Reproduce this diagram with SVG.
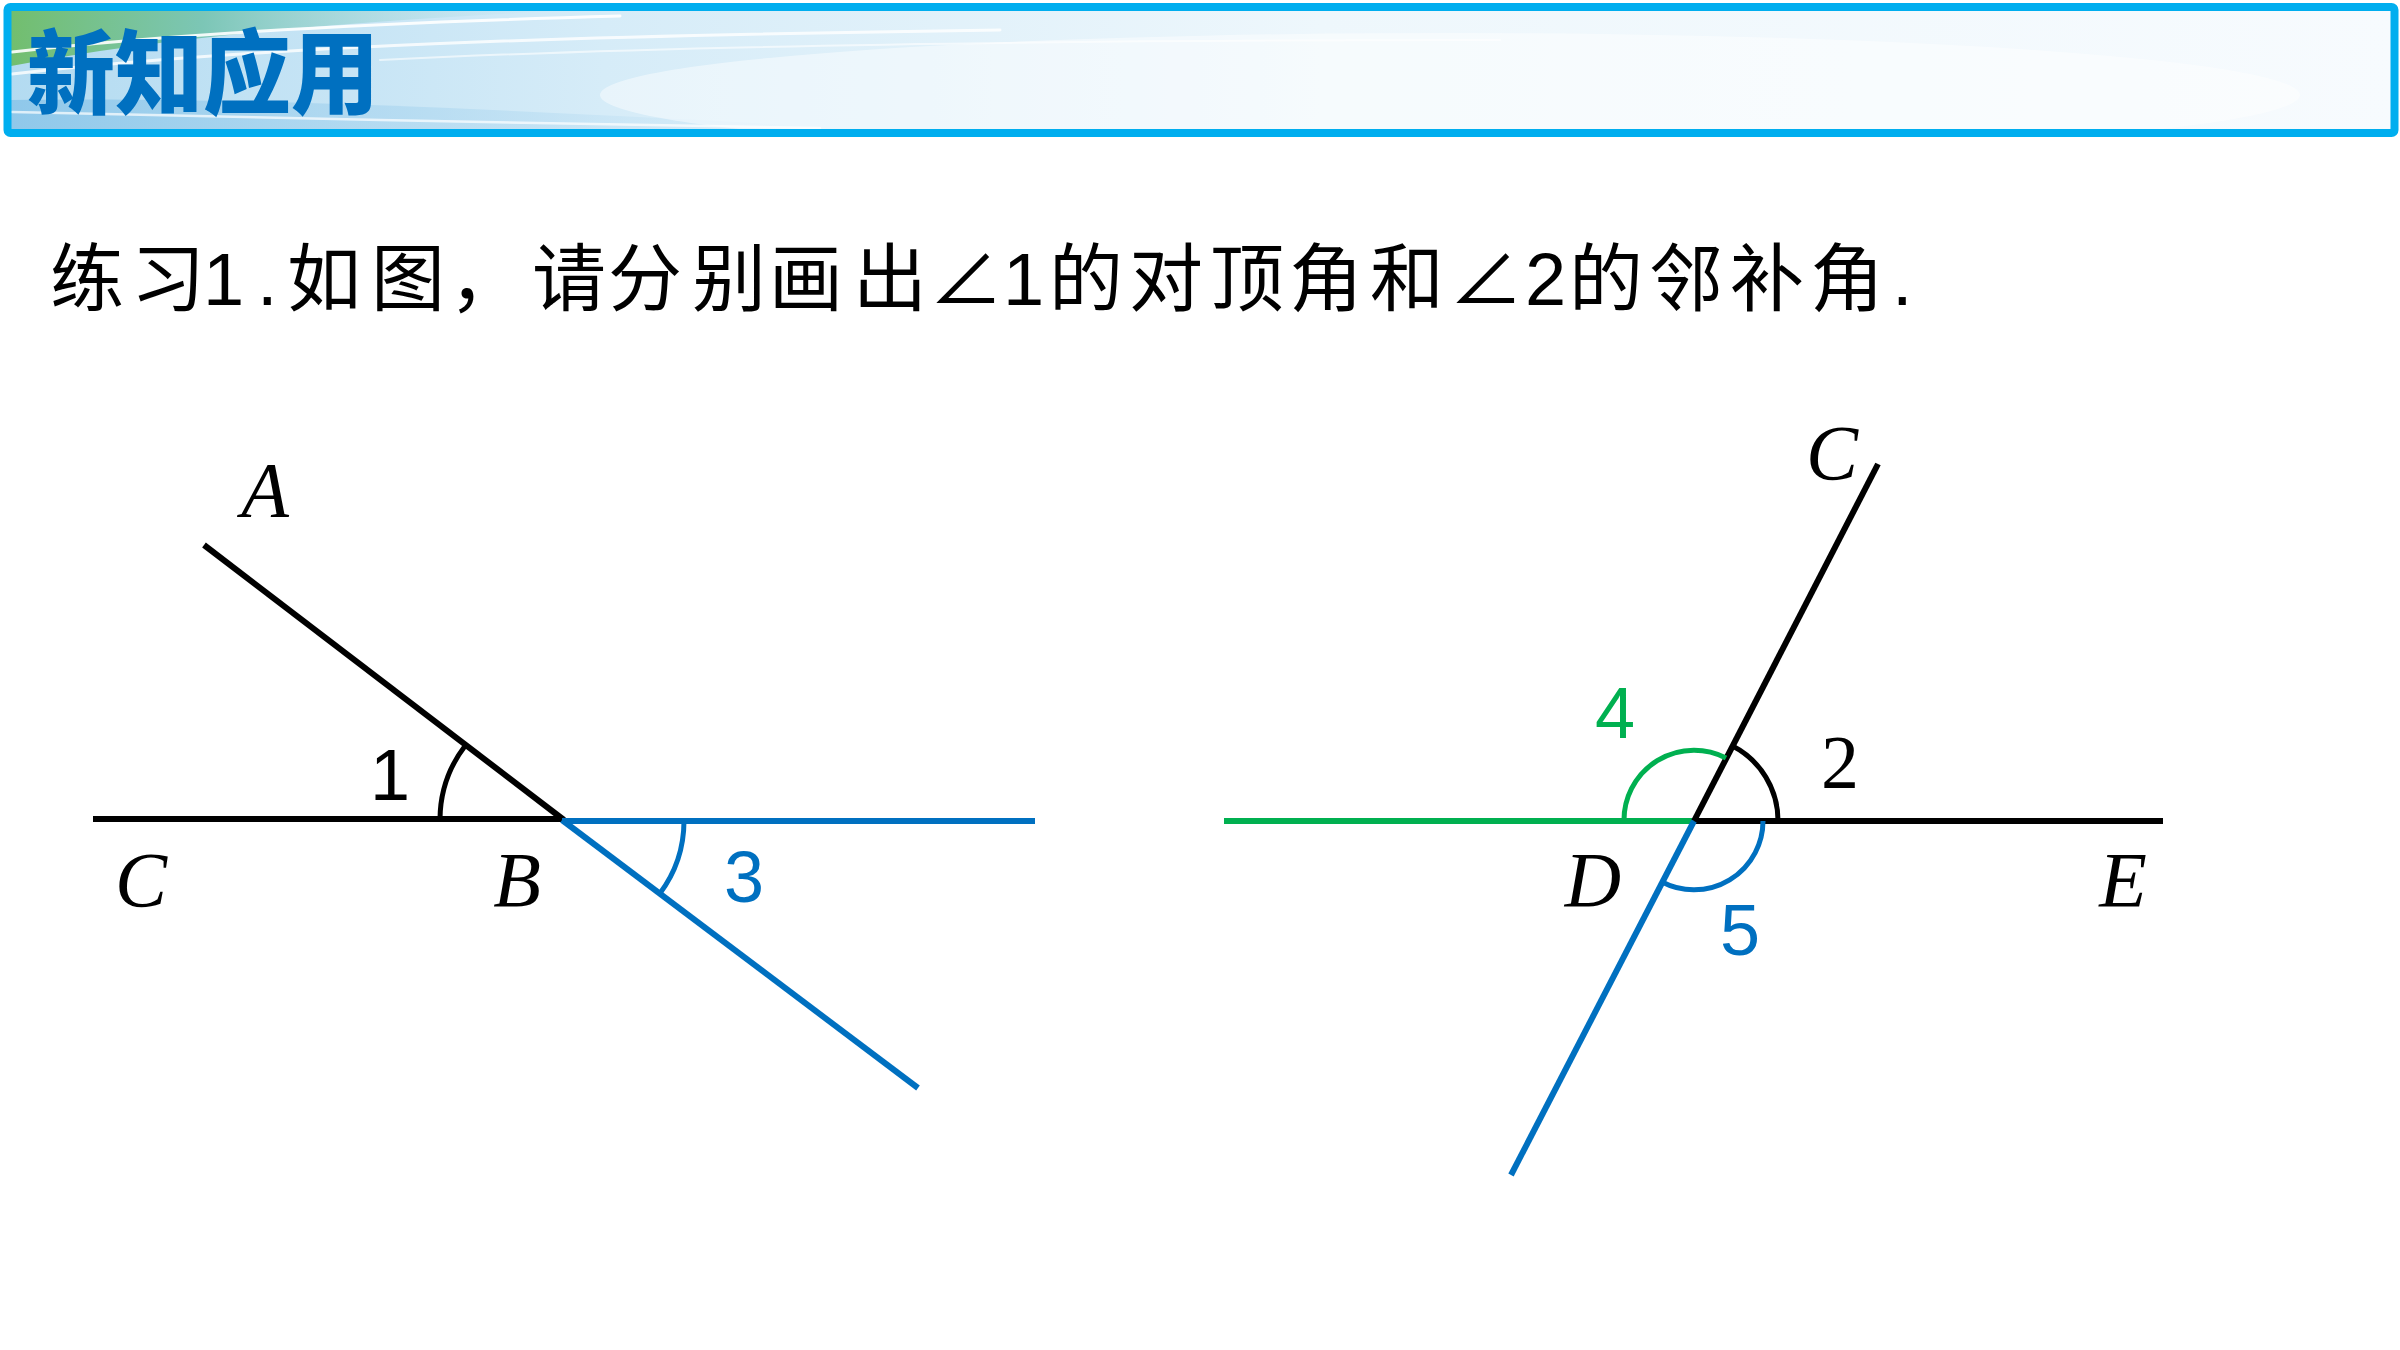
<svg xmlns="http://www.w3.org/2000/svg" width="2400" height="1350" viewBox="0 0 2400 1350">
<defs>
<linearGradient id="hdrBg" x1="0" y1="0" x2="1" y2="0">
<stop offset="0" stop-color="#B3DBF1"/>
<stop offset="0.25" stop-color="#D6ECF8"/>
<stop offset="0.55" stop-color="#EEF7FC"/>
<stop offset="1" stop-color="#F7FBFE"/>
</linearGradient>
<linearGradient id="green" x1="0" y1="0" x2="1" y2="0">
<stop offset="0" stop-color="#72BE6E"/>
<stop offset="0.35" stop-color="#7CC6B6"/>
<stop offset="1" stop-color="#BFE3F2" stop-opacity="0"/>
</linearGradient>
<linearGradient id="lowBlue" x1="0" y1="0" x2="1" y2="0">
<stop offset="0" stop-color="#8FC8EA"/>
<stop offset="0.6" stop-color="#B9DDF2" stop-opacity="0.6"/>
<stop offset="1" stop-color="#D9EEF9" stop-opacity="0"/>
</linearGradient>
<style>
.ln{fill:none;stroke-width:6;stroke-linecap:butt}
.k{stroke:#000}
.b{stroke:#0070C0}
.g{stroke:#00B050}
.arc{fill:none;stroke-width:5}
.pt{font-family:"Liberation Serif","Times New Roman",serif;font-style:italic;font-size:78px;fill:#000;text-anchor:middle}
.num{font-family:"Liberation Sans",Arial,sans-serif;font-size:72px;text-anchor:middle}
.q{font-family:"Liberation Sans","Noto Sans CJK SC",sans-serif;font-size:74px;fill:#000}
.streak{fill:none;stroke:#FFFFFF;stroke-linecap:round}
</style>
</defs>

<g id="header">
<rect x="8" y="7" width="2386" height="126" fill="url(#hdrBg)"/>
<path d="M11,11 H560 C380,20 180,34 11,66 Z" fill="url(#green)"/>
<path d="M11,100 C250,96 560,112 900,131 H11 Z" fill="url(#lowBlue)"/>
<ellipse cx="1450" cy="95" rx="850" ry="62" fill="#FFFFFF" opacity="0.45"/>
<path class="streak" stroke-width="3" opacity="0.9" d="M12,52 C150,36 330,24 620,16"/>
<path class="streak" stroke-width="3" opacity="0.8" d="M12,74 C260,46 560,36 1000,30"/>
<path class="streak" stroke-width="2.5" opacity="0.7" d="M12,112 C300,118 520,124 820,128"/>
<path class="streak" stroke-width="2" opacity="0.6" d="M380,60 C700,44 1100,40 1500,40"/>
<rect x="7.5" y="7" width="2387" height="126" rx="3" fill="none" stroke="#00AEEF" stroke-width="8"/>
<text x="27" y="107" font-family="'Noto Sans CJK SC',sans-serif" font-weight="900" font-size="92" fill="#0070C0" textLength="352" lengthAdjust="spacingAndGlyphs">新知应用</text>
</g>

<g id="question">
<text class="q" y="305" x="50 131 203 257 287 371 449 532 608 692 769 853 929 1003 1049 1129 1210 1289 1370 1449 1525 1569 1649 1730 1810 1892">练习1.如图，请分别画出∠1的对顶角和∠2的邻补角.</text>
</g>

<g id="figure-left">
<line class="ln k" x1="93" y1="819" x2="562" y2="819"/>
<line class="ln k" x1="204" y1="545" x2="564" y2="820"/>
<line class="ln b" x1="562" y1="821" x2="1035" y2="821"/>
<line class="ln b" x1="562" y1="820" x2="918" y2="1088"/>
<path class="arc k" d="M440,819 A122,122 0 0 1 465,746"/>
<path class="arc b" d="M684,821 A122,122 0 0 1 659.5,894"/>
<text class="num" x="390" y="800" fill="#000">1</text>
<text class="num" x="744" y="902" fill="#0070C0">3</text>
<text class="pt" x="265" y="516">A</text>
<text class="pt" x="141" y="906">C</text>
<text class="pt" x="517" y="906">B</text>
</g>

<g id="figure-right">
<line class="ln g" x1="1224" y1="821" x2="1694" y2="821"/>
<line class="ln k" x1="1694" y1="821" x2="2163" y2="821"/>
<line class="ln k" x1="1694" y1="821" x2="1878" y2="464"/>
<line class="ln b" x1="1694" y1="821" x2="1511" y2="1175"/>
<path class="arc k" d="M1778,821 A84,84 0 0 0 1732.6,746"/>
<path class="arc g" d="M1624,821 A70,70 0 0 1 1726,758"/>
<path class="arc b" d="M1763,821 A69,69 0 0 1 1662,882"/>
<text class="num" x="1615" y="738" fill="#00B050">4</text>
<text x="1840" y="788" font-family="'Liberation Serif','Times New Roman',serif" font-size="76" text-anchor="middle" fill="#000">2</text>
<text class="num" x="1740" y="955" fill="#0070C0">5</text>
<text class="pt" x="1832" y="479">C</text>
<text class="pt" x="1593" y="906">D</text>
<text class="pt" x="2123" y="906">E</text>
</g>
</svg>
